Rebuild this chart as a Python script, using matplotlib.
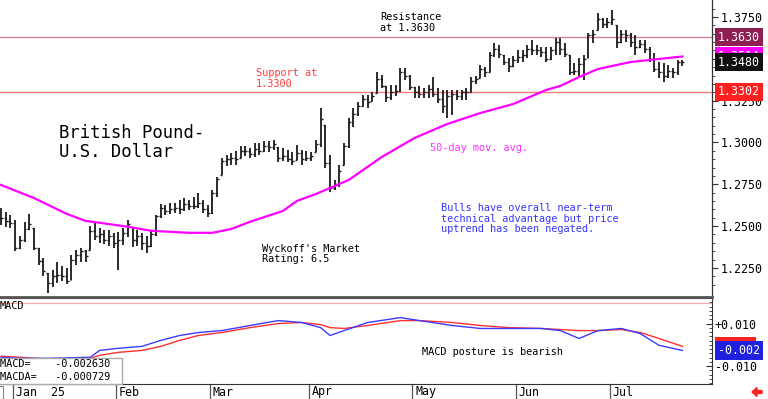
import matplotlib
matplotlib.use('Agg')
import matplotlib.pyplot as plt
import matplotlib.transforms as mtransforms
from matplotlib.patches import Rectangle, FancyArrow

# ---------------- data ----------------
highs = [1.2609, 1.2585, 1.2567, 1.2537, 1.2441, 1.2526, 1.2573, 1.2489, 1.2369, 1.2310,
         1.2220, 1.2238, 1.2286, 1.2262, 1.2250, 1.2327, 1.2357, 1.2369, 1.2357, 1.2502,
         1.2520, 1.2489, 1.2477, 1.2477, 1.2460, 1.2466, 1.2489, 1.2537, 1.2496, 1.2477,
         1.2460, 1.2441, 1.2477, 1.2567, 1.2632, 1.2626, 1.2638, 1.2638, 1.2656, 1.2668,
         1.2656, 1.2674, 1.2698, 1.2656, 1.2626, 1.2716, 1.2794, 1.2907, 1.2927, 1.2937,
         1.2949, 1.2979, 1.2979, 1.2967, 1.2997, 1.2997, 1.3009, 1.3009, 1.3015, 1.2973,
         1.2967, 1.2955, 1.2943, 1.2985, 1.2955, 1.2949, 1.2943, 1.3015, 1.3206, 1.3105,
         1.2927, 1.2776, 1.2865, 1.2997, 1.3146, 1.3206, 1.3242, 1.3284, 1.3284, 1.3302,
         1.3421, 1.3403, 1.3338, 1.3344, 1.3344, 1.3445, 1.3445, 1.3403, 1.3332, 1.3338,
         1.3326, 1.3344, 1.3391, 1.3326, 1.3314, 1.3314, 1.3314, 1.3314, 1.3314, 1.3326,
         1.3391, 1.3397, 1.3463, 1.3451, 1.3541, 1.3595, 1.3583, 1.3523, 1.3505, 1.3517,
         1.3553, 1.3553, 1.3583, 1.3613, 1.3583, 1.3571, 1.3571, 1.3571, 1.3625, 1.3625,
         1.3595, 1.3523, 1.3475, 1.3505, 1.3523, 1.3654, 1.3672, 1.3774, 1.3744, 1.3744,
         1.3792, 1.3702, 1.3672, 1.3672, 1.3654, 1.3642, 1.3613, 1.3613, 1.3571, 1.3535,
         1.3481, 1.3475, 1.3463, 1.3445, 1.3493, 1.3493]
lows = [1.2508, 1.2496, 1.2489, 1.2351, 1.2363, 1.2405, 1.2477, 1.2357, 1.2268, 1.2202,
        1.2101, 1.2136, 1.2160, 1.2172, 1.2154, 1.2178, 1.2268, 1.2286, 1.2286, 1.2357,
        1.2417, 1.2399, 1.2393, 1.2381, 1.2369, 1.2238, 1.2387, 1.2435, 1.2375, 1.2381,
        1.2357, 1.2339, 1.2375, 1.2441, 1.2549, 1.2567, 1.2573, 1.2579, 1.2573, 1.2591,
        1.2597, 1.2603, 1.2609, 1.2579, 1.2555, 1.2573, 1.2674, 1.2806, 1.2859, 1.2865,
        1.2865, 1.2907, 1.2919, 1.2907, 1.2913, 1.2927, 1.2943, 1.2943, 1.2955, 1.2883,
        1.2889, 1.2883, 1.2865, 1.2895, 1.2865, 1.2889, 1.2889, 1.2943, 1.2973, 1.2847,
        1.2704, 1.2716, 1.2734, 1.2865, 1.2967, 1.3093, 1.3158, 1.3220, 1.3206, 1.3248,
        1.3296, 1.3326, 1.3242, 1.3254, 1.3278, 1.3302, 1.3373, 1.3314, 1.3266, 1.3266,
        1.3266, 1.3266, 1.3272, 1.3238, 1.3176, 1.3146, 1.3164, 1.3254, 1.3254, 1.3254,
        1.3302, 1.3350, 1.3385, 1.3391, 1.3421, 1.3511, 1.3505, 1.3463, 1.3421, 1.3451,
        1.3475, 1.3481, 1.3505, 1.3523, 1.3523, 1.3511, 1.3481, 1.3493, 1.3523, 1.3523,
        1.3511, 1.3403, 1.3403, 1.3385, 1.3373, 1.3505, 1.3595, 1.3672, 1.3684, 1.3684,
        1.3702, 1.3565, 1.3595, 1.3601, 1.3571, 1.3523, 1.3565, 1.3535, 1.3481, 1.3421,
        1.3385, 1.3361, 1.3385, 1.3385, 1.3403, 1.3457]
closes = [1.2550, 1.2530, 1.2520, 1.2370, 1.2420, 1.2480, 1.2510, 1.2370, 1.2290, 1.2230,
          1.2160, 1.2200, 1.2210, 1.2200, 1.2170, 1.2300, 1.2330, 1.2350, 1.2320, 1.2470,
          1.2440, 1.2450, 1.2420, 1.2440, 1.2400, 1.2420, 1.2460, 1.2510, 1.2420, 1.2440,
          1.2400, 1.2380, 1.2450, 1.2560, 1.2610, 1.2590, 1.2600, 1.2610, 1.2600, 1.2630,
          1.2620, 1.2620, 1.2640, 1.2600, 1.2580, 1.2700, 1.2780, 1.2890, 1.2900, 1.2910,
          1.2900, 1.2950, 1.2950, 1.2930, 1.2960, 1.2950, 1.2980, 1.2970, 1.2990, 1.2910,
          1.2920, 1.2900, 1.2890, 1.2940, 1.2900, 1.2910, 1.2920, 1.2990, 1.3140, 1.2880,
          1.2730, 1.2750, 1.2830, 1.2980, 1.3120, 1.3170, 1.3220, 1.3260, 1.3240, 1.3280,
          1.3380, 1.3340, 1.3270, 1.3300, 1.3310, 1.3420, 1.3400, 1.3330, 1.3300, 1.3290,
          1.3300, 1.3320, 1.3290, 1.3260, 1.3220, 1.3280, 1.3290, 1.3280, 1.3300, 1.3300,
          1.3370, 1.3380, 1.3440, 1.3420, 1.3520, 1.3560, 1.3530, 1.3480, 1.3460, 1.3490,
          1.3510, 1.3520, 1.3560, 1.3550, 1.3550, 1.3540, 1.3500, 1.3550, 1.3600, 1.3560,
          1.3530, 1.3420, 1.3430, 1.3470, 1.3500, 1.3640, 1.3650, 1.3740, 1.3710, 1.3720,
          1.3740, 1.3600, 1.3650, 1.3640, 1.3600, 1.3570, 1.3590, 1.3560, 1.3500, 1.3440,
          1.3420, 1.3400, 1.3430, 1.3420, 1.3480, 1.3480]

ma_idx = [0, 7, 14, 18, 21, 27, 32, 40, 45, 49, 53, 60, 63, 67, 70, 74, 81, 88, 95, 102,
          109, 116, 119, 123, 127, 134, 138, 145]
ma_vals = [1.2746, 1.2668, 1.2573, 1.2531, 1.2520, 1.2496, 1.2472, 1.2460, 1.2460, 1.2483,
           1.2526, 1.2591, 1.2651, 1.2692, 1.2728, 1.2776, 1.2913, 1.3027, 1.3111, 1.3176,
           1.3230, 1.3314, 1.3338, 1.3391, 1.3439, 1.3481, 1.3493, 1.3514]

macd_idx = [0, 4, 10, 19, 21, 25, 30, 34, 38, 42, 47, 53, 59, 64, 68, 70, 73, 78, 85, 89,
            96, 102, 108, 115, 119, 123, 127, 132, 136, 140, 145]
macd_vals = [-0.0058, -0.0063, -0.0063, -0.0058, -0.0026, -0.0016, -0.0007, 0.0021, 0.0044,
             0.0058, 0.0067, 0.0091, 0.0114, 0.0105, 0.0081, 0.0044, 0.0067, 0.0105, 0.0128,
             0.0114, 0.0091, 0.0077, 0.0077, 0.0077, 0.0067, 0.0030, 0.0067, 0.0077, 0.0053,
             -0.0002, -0.002630]
signal_vals = [-0.0053, -0.0058, -0.0067, -0.0063, -0.0049, -0.0035, -0.0026, -0.0007, 0.0021,
               0.0044, 0.0058, 0.0081, 0.0100, 0.0105, 0.0095, 0.0081, 0.0077, 0.0091, 0.0114,
               0.0114, 0.0105, 0.0091, 0.0081, 0.0077, 0.0072, 0.0067, 0.0067, 0.0072, 0.0058,
               0.0030, -0.000729]
macd_upper_level = 0.0198

month_starts = [2.5, 24.5, 44.5, 65.5, 87.5, 109.5, 129.5]
month_labels = ['Jan  25', 'Feb', 'Mar', 'Apr', 'May', 'Jun', 'Jul']
price_ticks = [1.225, 1.250, 1.275, 1.300, 1.325, 1.350, 1.375]
macd_ticks = [0.010, -0.010]
resistance = 1.3630
support = 1.3302

# ---------------- layout ----------------
W, H = 768, 399
fig = plt.figure(figsize=(W / 100, H / 100), dpi=100)
fig.patch.set_facecolor('white')
MONO = 'DejaVu Sans Mono'

ax = fig.add_axes([0, (H - 297) / H, 712 / W, 297 / H])
axm = fig.add_axes([0, (H - 384) / H, 712 / W, 86 / H])

n = len(highs)
xs = list(range(n))
xlim = (-0.213, 151.28)

# ---------------- price panel ----------------
opens = [closes[0]] + closes[:-1]
opens = [min(max(o, l), h) for o, l, h in zip(opens, lows, highs)]
bar_col = '#1a1a1a'
ax.vlines(xs, lows, highs, color=bar_col, lw=1.3, zorder=3)
ax.hlines(opens, [x - 0.42 for x in xs], xs, color=bar_col, lw=1.0, zorder=3)
ax.hlines(closes, xs, [x + 0.42 for x in xs], color=bar_col, lw=1.0, zorder=3)

ax.plot(ma_idx, ma_vals, color='#ff00ff', lw=1.6, zorder=4)

ax.axhline(resistance, color='#c8849a', lw=1.0, zorder=1)
ax.axhline(support, color='#ff7a7a', lw=1.0, zorder=1)

ax.set_xlim(*xlim)
ax.set_ylim(1.20763, 1.38516)
ax.yaxis.tick_right()
ax.set_yticks(price_ticks)
ax.set_yticklabels(['%.4f' % t for t in price_ticks], fontfamily=MONO, fontsize=8.4)
ax.set_yticks([1.215 + 0.005 * k for k in range(34)], minor=True)
ax.tick_params(axis='y', which='major', direction='out', length=4, width=0.8, pad=2, colors='#333333', labelcolor='black')
ax.tick_params(axis='y', which='minor', direction='out', length=2, width=0.6, colors='#333333')
ax.set_xticks([])
for s in ['top', 'left']:
    ax.spines[s].set_visible(False)
ax.spines['right'].set_color('#333333')
ax.spines['right'].set_linewidth(0.9)
ax.spines['bottom'].set_color('#555555')
ax.spines['bottom'].set_linewidth(2.0)

def right_box(axis, y, text, fc, z=6, fs=8.4):
    tr = mtransforms.blended_transform_factory(axis.transAxes, axis.transData)
    axis.text(1.0085, y, text, transform=tr, ha='left', va='center', color='white',
              fontfamily=MONO, fontsize=fs, zorder=z, clip_on=False,
              bbox=dict(boxstyle='square,pad=0.22', fc=fc, ec='none'))

right_box(ax, resistance, '%.4f' % resistance, '#8e1f52')
right_box(ax, ma_vals[-1], '%.4f' % ma_vals[-1], '#ff00ff', z=6)
right_box(ax, closes[-1], '%.4f' % closes[-1], '#111111', z=7)
right_box(ax, support, '%.4f' % support, '#ff2020', z=7)

fs_small = 7.4
ax.text(80.6, 1.3780, 'Resistance\nat 1.3630', fontfamily=MONO, fontsize=fs_small,
        va='top', ha='left', color='black', linespacing=1.15)
ax.text(54.3, 1.3445, 'Support at\n1.3300', fontfamily=MONO, fontsize=fs_small,
        va='top', ha='left', color='#ff3b3b', linespacing=1.15)
ax.text(12.3, 1.3110, 'British Pound-\nU.S. Dollar', fontfamily=MONO, fontsize=12.4,
        va='top', ha='left', color='black', linespacing=1.1)
ax.text(91.3, 1.2967, '50-day mov. avg.', fontfamily=MONO, fontsize=fs_small,
        va='center', ha='left', color='#ff33ff')
ax.text(93.6, 1.2636, 'Bulls have overall near-term\ntechnical advantage but price\nuptrend has been negated.',
        fontfamily=MONO, fontsize=fs_small, va='top', ha='left', color='#3535ff', linespacing=1.05)
ax.text(55.5, 1.2396, "Wyckoff's Market\nRating: 6.5", fontfamily=MONO, fontsize=fs_small,
        va='top', ha='left', color='black', linespacing=1.05)

# ---------------- MACD panel ----------------
axm.plot(macd_idx, macd_vals, color='#3b3bff', lw=1.0, zorder=3)
axm.plot(macd_idx, signal_vals, color='#ff3030', lw=1.0, zorder=2)
axm.axhline(macd_upper_level, color='#ffaaaa', lw=0.9, zorder=1)
axm.set_xlim(*xlim)
axm.set_ylim(-0.01837, 0.02163)
axm.yaxis.tick_right()
axm.set_yticks(macd_ticks)
axm.set_yticklabels(['%+.3f' % t for t in macd_ticks], fontfamily=MONO, fontsize=8.4)
axm.set_yticks([-0.018 + 0.002 * k for k in range(21)], minor=True)
axm.tick_params(axis='y', which='major', direction='in', length=4, width=0.8, pad=2, colors='#333333', labelcolor='black')
axm.tick_params(axis='y', which='minor', direction='in', length=2, width=0.6, colors='#333333')
axm.set_xticks([])
axm.spines['left'].set_visible(False)
axm.spines['top'].set_color('#555555')
axm.spines['top'].set_linewidth(1.5)
axm.spines['right'].set_color('#333333')
axm.spines['bottom'].set_color('#333333')

def trunc3(v):
    return '%.3f' % (int(v * 1000) / 1000.0)

right_box(axm, signal_vals[-1], trunc3(signal_vals[-1]), '#ff2020', z=6)
right_box(axm, macd_vals[-1], trunc3(macd_vals[-1]), '#2020e0', z=7)

axm.text(-0.2, 0.0184, 'MACD', fontfamily=MONO, fontsize=fs_small, va='center', ha='left')
axm.text(89.6, -0.0035, 'MACD posture is bearish', fontfamily=MONO, fontsize=fs_small,
         va='center', ha='left')

# MACD value box (lower-left)
trm = axm.transAxes
axm.add_patch(Rectangle((-0.01, 0.0), 122 / 712 + 0.01, 26 / 86, transform=trm, fc='white',
                        ec='#aaaaaa', lw=1.0, zorder=8, clip_on=False))
axm.text(0.0, 20 / 86, 'MACD=    %.6f' % macd_vals[-1], transform=trm, fontfamily=MONO,
         fontsize=fs_small, va='center', ha='left', zorder=9)
axm.text(0.0, 7 / 86, 'MACDA=   %.6f' % signal_vals[-1], transform=trm, fontfamily=MONO,
         fontsize=fs_small, va='center', ha='left', zorder=9)

# date axis row
trd = mtransforms.blended_transform_factory(axm.transData, axm.transAxes)
for ms, lab in zip(month_starts, month_labels):
    axm.plot([ms, ms], [0, -15 / 86], transform=trd, color='#555555', lw=0.9, clip_on=False)
    axm.text(ms + 0.6, -8 / 86, lab, transform=trd, fontfamily=MONO, fontsize=8.4,
             va='center', ha='left', clip_on=False)
axm.add_patch(Rectangle((-0.01, -15 / 86), 0.014, 13 / 86, transform=trm, fc='white',
                        ec='#888888', lw=0.8, clip_on=False))

# small red arrow lower-right
fig.patches.append(FancyArrow(762 / W, 1 - 392 / H, -10 / W, 0, width=3 / H, head_width=9 / H,
                              head_length=5 / W, length_includes_head=True, color='#ff2020',
                              transform=fig.transFigure, figure=fig))

fig.savefig('out.png', dpi=100, facecolor='white')
